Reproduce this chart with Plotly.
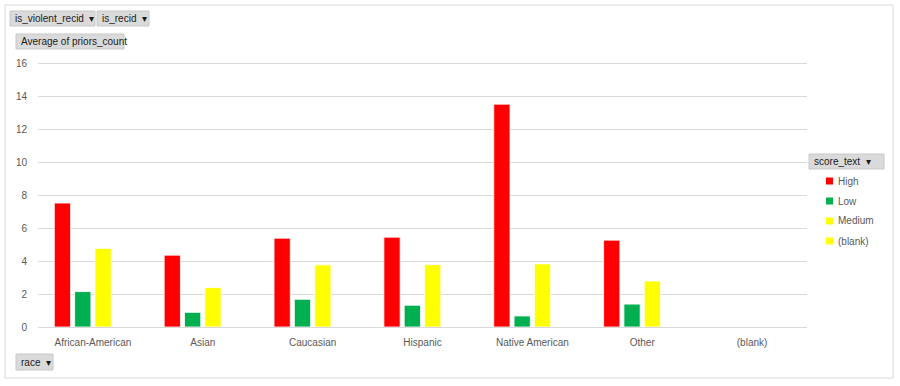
import plotly.graph_objects as go

races = ["African-American", "Asian", "Caucasian", "Hispanic", "Native American", "Other", "(blank)"]
series = ["High", "Low", "Medium", "(blank)"]
high = [7.52, 4.36, 5.39, 5.45, 13.52, 5.27, None]
low = [2.15, 0.89, 1.68, 1.32, 0.67, 1.39, None]
medium = [4.77, 2.39, 3.77, 3.78, 3.83, 2.79, None]
blank = [None, None, None, None, None, None, None]
colors = ["#ff0000", "#00b050", "#ffff00", "#ffff00"]
y_ticks = [0, 2, 4, 6, 8, 10, 12, 14, 16]

W, H = 900, 386
L, R, T, B = 38, 807, 60, 327
FONT = "Liberation Sans"
TXT = "#595959"

fig = go.Figure()
for name, vals, col in zip(series, [high, low, medium, blank], colors):
    fig.add_trace(go.Bar(x=races, y=vals, name=name,
                         marker=dict(color=col, line=dict(color="white", width=0.8)),
                         showlegend=False))


def px(x):
    return (x - L) / (R - L)


def py(y):
    return (B - y) / (B - T)


shapes = []
annotations = []

# outer border
shapes.append(dict(type="rect", xref="paper", yref="paper", x0=px(5), x1=px(893), y0=py(5), y1=py(378),
                   line=dict(color="#d9d9d9", width=1), fillcolor="rgba(0,0,0,0)", layer="below"))


def button(x0, x1, y0, y1, text):
    shapes.append(dict(type="rect", xref="paper", yref="paper", x0=px(x0), x1=px(x1), y0=py(y0), y1=py(y1),
                       line=dict(color="#c8c8c8", width=1), fillcolor="#dadada", layer="above"))
    annotations.append(dict(xref="paper", yref="paper", x=px(x0 + 3), y=py((y0 + y1) / 2), text=text,
                            showarrow=False, xanchor="left", yanchor="middle",
                            font=dict(family=FONT, size=10, color="#1a1a1a")))


button(10, 95, 11, 26, "is_violent_recid  ▾")
button(97, 149, 11, 26, "is_recid  ▾")
button(16, 124, 34, 49, "Average of priors_count")
button(16, 53, 354, 370, "race  ▾")
button(809, 884, 154, 169, "score_text  ▾")

# legend (manual, Excel-style small squares)
for i, (name, col) in enumerate(zip(series, colors)):
    yc = 181 + 20 * i
    shapes.append(dict(type="rect", xref="paper", yref="paper", x0=px(826), x1=px(833),
                       y0=py(yc - 3.5), y1=py(yc + 3.5), line=dict(width=0), fillcolor=col))
    annotations.append(dict(xref="paper", yref="paper", x=px(836), y=py(yc), text=name, showarrow=False,
                            xanchor="left", yanchor="middle", font=dict(family=FONT, size=10, color=TXT)))

fig.update_layout(
    width=W, height=H,
    margin=dict(l=L, r=W - R, t=T, b=H - B),
    paper_bgcolor="white", plot_bgcolor="white",
    barmode="group", bargap=0.26, bargroupgap=0.2,
    showlegend=False,
    font=dict(family=FONT, size=10, color=TXT),
    xaxis=dict(showgrid=False, showline=True, linecolor="#d9d9d9", linewidth=1, ticks="",
               ticklabelstandoff=6,
               tickfont=dict(family=FONT, size=10, color=TXT), fixedrange=True),
    yaxis=dict(range=[0, 16.2], tickvals=y_ticks, showgrid=True, gridcolor="#d9d9d9", gridwidth=1,
               zeroline=False, showline=False, ticks="", ticklabelstandoff=10,
               tickfont=dict(family=FONT, size=10, color=TXT), fixedrange=True),
    shapes=shapes, annotations=annotations,
)

fig.write_html("out.html", config={"displayModeBar": False},
               post_script="document.body.style.margin='0';document.body.style.padding='0';")
